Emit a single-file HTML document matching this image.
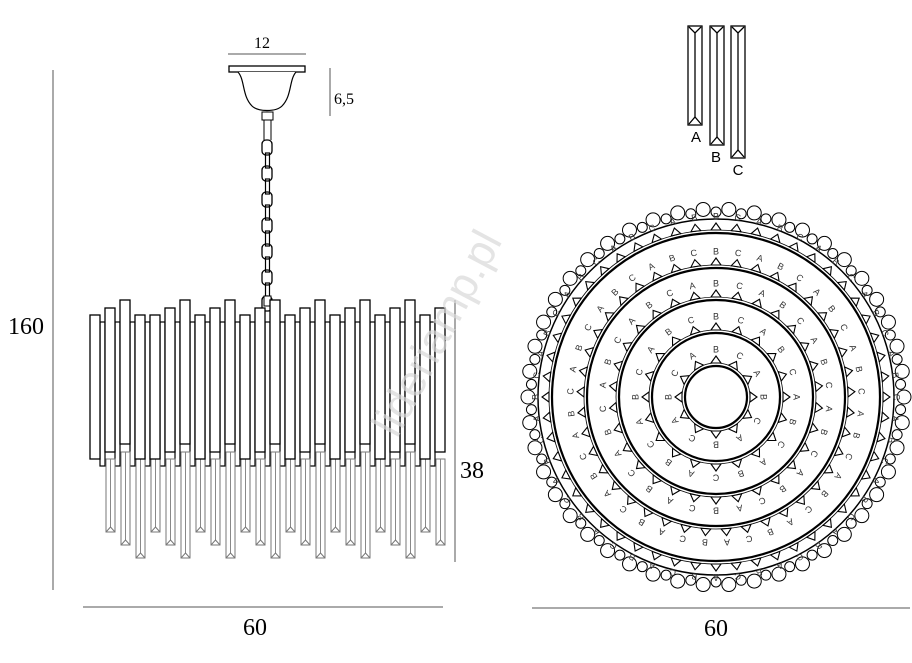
<!DOCTYPE html>
<html><head><meta charset="utf-8"><style>
html,body{margin:0;padding:0;background:#fff}
svg{display:block}
text{font-family:"Liberation Serif",serif}
</style></head><body>
<svg id="s" width="912" height="663" viewBox="0 0 912 663" xmlns="http://www.w3.org/2000/svg">
<text x="262" y="48" font-size="16" text-anchor="middle">12</text>
<line x1="228" y1="54" x2="306" y2="54" stroke="#555" stroke-width="1"/>
<line x1="330" y1="68" x2="330" y2="116" stroke="#555" stroke-width="1"/>
<text x="334" y="104" font-size="16">6,5</text>
<line x1="53" y1="70" x2="53" y2="590" stroke="#555" stroke-width="1"/>
<text x="8" y="334" font-size="24">160</text>
<line x1="455" y1="300" x2="455" y2="562" stroke="#555" stroke-width="1"/>
<text x="460" y="478" font-size="24">38</text>
<line x1="83" y1="607" x2="443" y2="607" stroke="#555" stroke-width="1"/>
<text x="255" y="635" font-size="24" text-anchor="middle">60</text>
<line x1="532" y1="608" x2="910" y2="608" stroke="#555" stroke-width="1"/>
<text x="716" y="636" font-size="24" text-anchor="middle">60</text>
<rect x="229" y="66" width="76" height="6" fill="#fff" stroke="#000" stroke-width="1.3"/>
<path d="M238 72 C245 80 242 96 252 106 C258 112 276 112 282 106 C292 96 289 80 296 72" fill="#fff" stroke="#000" stroke-width="1.2"/>
<rect x="262" y="112" width="11" height="8" fill="#fff" stroke="#000" stroke-width="1"/>
<line x1="264" y1="120" x2="264" y2="140" stroke="#000"/><line x1="271" y1="120" x2="271" y2="140" stroke="#000"/>
<g id="chain"></g>
<g id="tubes"></g>
<g stroke="#000" fill="none" stroke-width="1.3">
<rect x="688" y="26" width="14" height="99"/><line x1="695" y1="33" x2="695" y2="117"/><path d="M689 27 L695 33 L701 27 M689 124 L695 117 L701 124"/>
<rect x="710" y="26" width="14" height="119"/><line x1="717" y1="33" x2="717" y2="137"/><path d="M711 27 L717 33 L723 27 M711 144 L717 137 L723 144"/>
<rect x="731" y="26" width="14" height="132"/><line x1="738" y1="33" x2="738" y2="150"/><path d="M732 27 L738 33 L744 27 M732 157 L738 150 L744 157"/>
</g>
<g font-size="15" text-anchor="middle">
<text x="696" y="142" style="font-family:'Liberation Sans',sans-serif">A</text>
<text x="716" y="162" style="font-family:'Liberation Sans',sans-serif">B</text>
<text x="738" y="175" style="font-family:'Liberation Sans',sans-serif">C</text>
</g>
<g id="circ"></g>
<text x="450" y="340" font-size="44" fill="#d8d8d8" fill-opacity="0.7" transform="rotate(-62 450 340)" text-anchor="middle" style="font-family:'Liberation Sans',sans-serif">lideriamp.pl</text>
</svg>
<script>
var NS="http://www.w3.org/2000/svg";
function el(p,t,a,txt){var e=document.createElementNS(NS,t);for(var k in a)e.setAttribute(k,a[k]);if(txt)e.textContent=txt;p.appendChild(e);return e;}
var ch=document.getElementById('chain');
var k=0;
for(var y=140;y<300;y+=13){ if(k%2==0) el(ch,'rect',{x:262,y:y,width:10,height:15,rx:4,fill:'none',stroke:'#000','stroke-width':1.3});
 else el(ch,'rect',{x:265.5,y:y,width:4,height:15,fill:'none',stroke:'#000','stroke-width':1.2}); k++;}
el(ch,'rect',{x:264,y:296,width:7,height:10,fill:'#fff',stroke:'#000'});
var tg=document.getElementById('tubes');
var tops=[315,308,300,315,315,308,300,315,308,300,315,308,300,315,308,300,315,308,300,315,308,300,315,308];
var drops=[];
for(var i=1;i<tops.length;i++){var x=90+15*i;var bb=[532,545,558][(i-1)%3];
 drops.push([x-1,Math.max(tops[i],tops[i-1])+144,bb]);}
for(var i=0;i<tops.length-1;i++){var x=100+15*i;el(tg,'rect',{x:x,y:322,width:5,height:144,fill:'#fff',stroke:'#000','stroke-width':1.2});}
drops.forEach(function(d){var x=d[0];el(tg,'rect',{x:x+2,y:d[1],width:9,height:d[2]-d[1],fill:'#fff',stroke:'#777','stroke-width':1});
 el(tg,'line',{x1:x+6.5,y1:d[1],x2:x+6.5,y2:d[2]-5,stroke:'#888','stroke-width':1});
 el(tg,'path',{d:'M'+(x+2)+' '+d[2]+' L'+(x+6.5)+' '+(d[2]-5)+' L'+(x+11)+' '+d[2],fill:'none',stroke:'#777'});});
for(var i=0;i<tops.length;i++){var x=90+15*i;el(tg,'rect',{x:x,y:tops[i],width:10,height:144,fill:'#fff',stroke:'#000','stroke-width':1.3});}
var cg=document.getElementById('circ');var cx=716,cy=397;
var nb=92;for(var i=0;i<nb;i++){var a=2*Math.PI*i/nb;var r=i%2?5:7;var R=i%2?185:188;
 el(cg,'circle',{cx:cx+R*Math.cos(a),cy:cy+R*Math.sin(a),r:r,fill:'#fff',stroke:'#000','stroke-width':1});}
el(cg,'circle',{cx:cx,cy:cy,r:178,fill:'none',stroke:'#000','stroke-width':1.5});
var rings=[164,129,97,64,31];var L=['A','B','C'];
rings.forEach(function(r){
 el(cg,'circle',{cx:cx,cy:cy,r:r,fill:'none',stroke:'#000','stroke-width':2.2});
 el(cg,'circle',{cx:cx,cy:cy,r:r+3,fill:'none',stroke:'#000','stroke-width':0.8});
 var n=Math.max(12,Math.round(2*Math.PI*r/20));
 for(var i=0;i<n;i++){var a=2*Math.PI*i/n-Math.PI/2;var c=Math.cos(a),s=Math.sin(a),tx=-s,ty=c;
  var b=r+3,h=b+7,w=5;
  el(cg,'path',{d:'M'+(cx+b*c+w*tx)+' '+(cy+b*s+w*ty)+' L'+(cx+h*c)+' '+(cy+h*s)+' L'+(cx+b*c-w*tx)+' '+(cy+b*s-w*ty)+' Z',fill:'none',stroke:'#000','stroke-width':1.1});
  var lr=h+6;var deg=a*180/Math.PI+90;
  el(cg,'text',{x:cx+lr*c,y:cy+lr*s,'font-size':9,'text-anchor':'middle','dominant-baseline':'middle',fill:'#333',transform:'rotate('+deg+' '+(cx+lr*c)+' '+(cy+lr*s)+')',style:"font-family:'Liberation Sans',sans-serif"},L[(i+1)%3]);
 }});
</script>
</body></html>
